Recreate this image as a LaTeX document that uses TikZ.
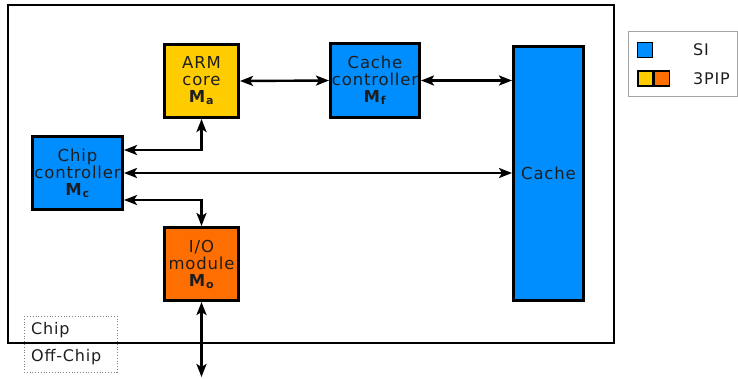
\documentclass[tikz,border=0pt]{standalone}
\usepackage{fontspec}
\setmainfont{DejaVu Sans}[LetterSpace=5]
\usetikzlibrary{arrows.meta}
\definecolor{siblue}{RGB}{0,142,255}
\definecolor{pipyellow}{RGB}{255,204,0}
\definecolor{piporange}{RGB}{255,110,0}
\definecolor{txt}{RGB}{30,30,30}
\tikzset{
  blk/.style={draw=black, line width=3pt, inner sep=0pt, align=center, text=txt,
    font=\fontsize{16.5}{17}\selectfont},
  tip/.tip={Stealth[length=13pt,width=10pt,inset=3pt]},
  arr/.style={line width=2.4pt, tip-tip},
  leg/.style={draw=black, line width=1.3pt, minimum width=15pt, minimum height=15pt, inner sep=0pt},
  lab/.style={anchor=west, inner sep=0pt, text=txt, font=\fontsize{16}{16}\selectfont},
}
\newcommand{\mlab}[1]{\textbf{M}\raisebox{-2pt}{\fontsize{11}{11}\selectfont\textbf{#1}}}
\begin{document}
\begin{tikzpicture}[x=1pt,y=-1pt]
\useasboundingbox (0,0) rectangle (738,378);
% chip boundary
\draw[line width=1.8pt] (8,5) rectangle (614,343);
% blocks
\node[blk, fill=pipyellow, minimum width=74pt, minimum height=73pt] (arm) at (201.5,81) {ARM\\core\\\mlab{a}};
\node[blk, fill=siblue, minimum width=89pt, minimum height=74pt] (cc) at (375,80.5) {Cache\\controller\\\mlab{f}};
\node[blk, fill=siblue, minimum width=70pt, minimum height=254pt] (cache) at (548.5,173.5) {Cache};
\node[blk, fill=siblue, minimum width=90pt, minimum height=73pt] (chipc) at (77.5,173) {Chip\\controller\\\mlab{c}};
\node[blk, fill=piporange, minimum width=74pt, minimum height=73pt] (io) at (201.5,264) {I/O\\module\\\mlab{o}};
% connectors
\coordinate (a1) at (124,150);
\coordinate (a2) at (124,200);
\coordinate (off) at (201.5,377);
\draw[arr] (arm.east) -- (cc.west);
\draw[arr] (cc.east) -- (cc.east -| cache.west);
\draw[arr] (chipc.east) -- (chipc.east -| cache.west);
\draw[arr] (arm.south) |- (a1);
\draw[arr] (a2) -| (io.north);
\draw[arr] (io.south) -- (off);
% chip / off-chip
\draw[dotted, gray, line width=0.8pt] (24,316) rectangle (117,372);
\node[lab] (chiplab) at (31,330) {Chip};
\node[lab] (offlab) at (31,357) {Off-Chip};
% legend
\draw[gray!70, line width=0.8pt] (628,31) rectangle (737.5,96);
\node[leg, fill=siblue] (lsi) at (645,50) {};
\node[leg, fill=pipyellow] (ly) at (645.5,78.5) {};
\node[leg, fill=piporange, anchor=west] (lo) at (ly.east) {};
\node[lab] (tsi) at (693,50) {SI};
\node[lab] (tpip) at (693,78.5) {3PIP};
\end{tikzpicture}
\end{document}
